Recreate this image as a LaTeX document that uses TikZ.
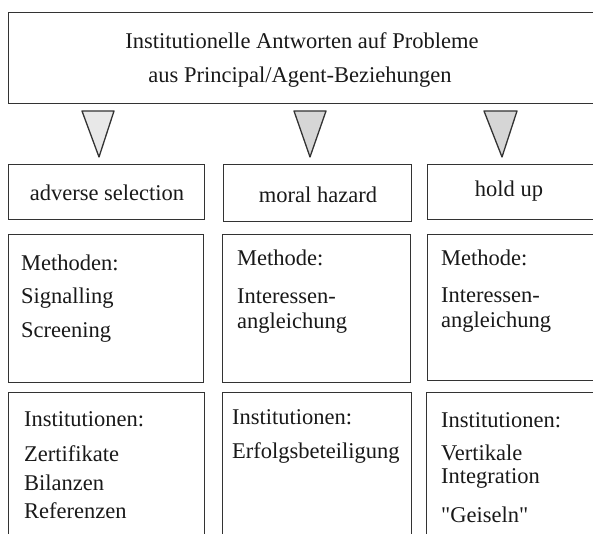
\documentclass[tikz,border=0pt]{standalone}
\usepackage{fontspec}
\setmainfont{Liberation Serif}[Ligatures=TeXOff]
\usetikzlibrary{positioning}

\tikzset{
  boxframe/.style={draw=black!80, line width=1.3pt, inner sep=0pt, anchor=north west},
  txt/.style={anchor=base west, inner sep=0pt, font=\fontsize{22.5}{27}\selectfont, text=black!90},
  ctxt/.style={txt, anchor=base},
  wedge/.style={draw=black!80, line width=1.3pt, line join=round, fill=#1},
}

\begin{document}
\begin{tikzpicture}[x=1pt,y=-1pt]
    \useasboundingbox (0,0) rectangle (593,534);
    \fill[white] (0,0) rectangle (593,534);

    % heading box
    \node[boxframe, minimum width=602pt, minimum height=91pt] (head) at (8,12) {};
    \node[ctxt] (head1) at (302,49) {Institutionelle Antworten auf Probleme};
    \node[ctxt] (head2) at (300,83) {aus Principal/Agent-Beziehungen};

    % arrows down
    \draw[wedge=gray!18] (82,111) -- (114,111) -- (99,157) -- cycle;
    \draw[wedge=gray!32] (294,111) -- (326,111) -- (310,157) -- cycle;
    \draw[wedge=gray!32] (484,111) -- (517,111) -- (502,157) -- cycle;

    % problem row
    \node[boxframe, minimum width=196pt, minimum height=55pt] (adv) at (8,164) {};
    \node[boxframe, minimum width=188pt, minimum height=57pt] (moral) at (223,164) {};
    \node[boxframe, minimum width=183pt, minimum height=55pt] (hold) at (427,164) {};
    \node[ctxt] (advtxt) at (107,201) {adverse selection};
    \node[ctxt] (moraltxt) at (318,203) {moral hazard};
    \node[ctxt] (holdtxt) at (509,197) {hold up};

    % methods row
    \node[boxframe, minimum width=195pt, minimum height=148pt] (meth1) at (8,234) {};
    \node[boxframe, minimum width=188pt, minimum height=148pt] (meth2) at (222,234) {};
    \node[boxframe, minimum width=183pt, minimum height=146pt] (meth3) at (427,234) {};
    \foreach \t/\y [count=\i] in {Methoden:/270, Signalling/303, Screening/337}
        \node[txt] (m1-\i) at (21,\y) {\t};
    \foreach \t/\y [count=\i] in {Methode:/265, Interessen-/303, angleichung/328}
        \node[txt] (m2-\i) at (237,\y) {\t};
    \foreach \t/\y [count=\i] in {Methode:/265, Interessen-/302, angleichung/327}
        \node[txt] (m3-\i) at (441,\y) {\t};

    % institutions row
    \node[boxframe, minimum width=196pt, minimum height=160pt] (inst1) at (8,392) {};
    \node[boxframe, minimum width=189pt, minimum height=160pt] (inst2) at (222,392) {};
    \node[boxframe, minimum width=183pt, minimum height=160pt] (inst3) at (426,392) {};
    \foreach \t/\y [count=\i] in {Institutionen:/426, Zertifikate/461, Bilanzen/490, Referenzen/518}
        \node[txt] (i1-\i) at (24,\y) {\t};
    \foreach \t/\y [count=\i] in {Institutionen:/424, Erfolgsbeteiligung/458}
        \node[txt] (i2-\i) at (232,\y) {\t};
    \foreach \t/\y [count=\i] in {Institutionen:/427, Vertikale/460, Integration/483, "Geiseln"/522}
        \node[txt] (i3-\i) at (441,\y) {\t};
\end{tikzpicture}
\end{document}
